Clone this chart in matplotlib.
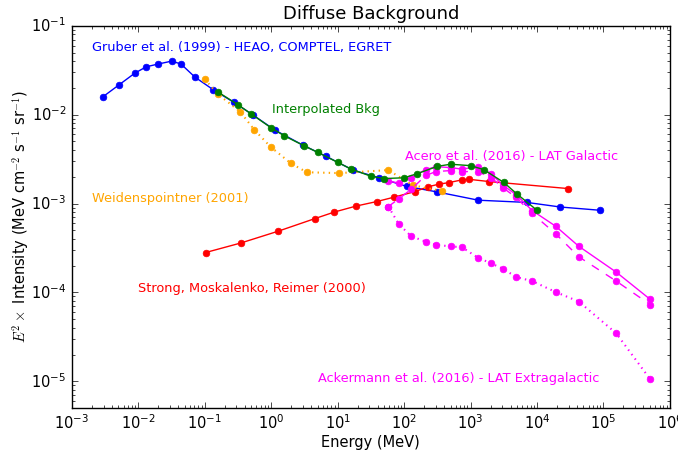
import numpy as np
import matplotlib
matplotlib.use("Agg")
import matplotlib.pyplot as plt

plt.style.use("classic")

# Gruber et al. (1999) - HEAO, COMPTEL, EGRET
gruber_e = [0.0029, 0.0051, 0.0089, 0.0132, 0.0197, 0.032, 0.044, 0.071, 0.134, 0.275,
            0.537, 1.14, 3.04, 6.7, 17.2, 42, 109, 317, 1315, 7000, 22500, 87300]
gruber_i = [0.0158, 0.0216, 0.0294, 0.0346, 0.0371, 0.0401, 0.0371, 0.0265, 0.0191, 0.01375,
            0.00987, 0.0067, 0.00452, 0.0034, 0.00237, 0.00195, 0.00156, 0.00135, 0.00109,
            0.00103, 0.000914, 0.000841]

# Weidenspointner (2001)
weid_e = [0.1, 0.158, 0.341, 0.555, 0.98, 1.97, 3.43, 10.5, 58, 134, 378]
weid_i = [0.0251, 0.0170, 0.0108, 0.00678, 0.00434, 0.00284, 0.00225, 0.00220, 0.00238,
          0.00161, 0.00138]

# Strong, Moskalenko, Reimer (2000)
strong_e = [0.103, 0.35, 1.28, 4.57, 8.9, 19.1, 38.8, 70, 146, 230, 339, 471, 739, 943,
            1927, 29200]
strong_i = [0.000281, 0.00036, 0.000489, 0.000678, 0.000802, 0.000938, 0.001053, 0.001178,
            0.001364, 0.001545, 0.001656, 0.00172, 0.001845, 0.001875, 0.001766, 0.001475]

# Acero et al. (2016) - LAT Galactic (two models) and Ackermann et al. (2016)
lat_e = [58, 83, 127, 212, 302, 500, 740, 1280, 2040, 3060, 4860, 8470, 19100, 42500,
         156000, 507000]
acero_i = [0.00179, 0.0017, 0.00196, 0.00241, 0.0026, 0.00254, 0.00244, 0.0026, 0.00217,
           0.00161, 0.00126, 0.000834, 0.000556, 0.000331, 0.000169, 8.34e-5]
acero2_i = [0.000925, 0.00113, 0.00144, 0.00207, 0.00229, 0.00235, 0.00229, 0.00229, 0.00196,
            0.00151, 0.00117, 0.000773, 0.000457, 0.000252, 0.000134, 7.28e-5]
acker_i = [0.000925, 0.000589, 0.00043, 0.000372, 0.000344, 0.000329, 0.000323, 0.000247,
           0.000212, 0.000185, 0.000149, 0.000134, 0.000101, 7.9e-5, 3.46e-5, 1.05e-5]

# Interpolated background
interp_e = [0.158, 0.316, 0.5, 1, 1.58, 3.16, 5, 10, 15.8, 31.6, 50, 100, 158, 316, 500,
            1000, 1580, 3160, 5000, 10000]
interp_i = [0.0180, 0.01295, 0.0102, 0.0071, 0.00577, 0.00445, 0.00377, 0.00291, 0.00245,
            0.00203, 0.00191, 0.00195, 0.00217, 0.00262, 0.00277, 0.00267, 0.00241, 0.00173,
            0.00128, 0.000841]

MAG = (1, 0, 1)
GRN = (0, 0.5, 0)

fig = plt.figure(figsize=(6.78, 4.53), dpi=100, facecolor="white")
ax = fig.add_axes([0.106, 0.0993, 0.882, 0.8437])
ax.set_facecolor("white")

ms = 4.8
ax.loglog(gruber_e, gruber_i, "-o", color="b", mec="b", ms=ms, lw=1)
ax.loglog(strong_e, strong_i, "-o", color="r", mec="r", ms=ms, lw=1)
ax.loglog(weid_e, weid_i, ":o", color="orange", mec="orange", ms=ms, lw=1.5)
ax.loglog(lat_e, acero_i, "-o", color=MAG, mec=MAG, ms=ms, lw=1)
ax.loglog(lat_e, acero2_i, "--o", color=MAG, mec=MAG, ms=ms, lw=1)
ax.loglog(lat_e, acker_i, ":o", color=MAG, mec=MAG, ms=ms, lw=1.5)
ax.loglog(interp_e, interp_i, "-o", color=GRN, mec=GRN, ms=ms, lw=1)

ax.set_xlim(1e-3, 1e6)
ax.set_ylim(5e-6, 1e-1)

kw = dict(transform=ax.transAxes, fontsize=9.3, va="center", ha="left")
ax.text(0.033, 0.942, "Gruber et al. (1999) - HEAO, COMPTEL, EGRET", color="b", **kw)
ax.text(0.334, 0.780, "Interpolated Bkg", color=GRN, **kw)
ax.text(0.557, 0.657, "Acero et al. (2016) - LAT Galactic", color=MAG, **kw)
ax.text(0.033, 0.547, "Weidenspointner (2001)", color="orange", **kw)
ax.text(0.110, 0.3115, "Strong, Moskalenko, Reimer (2000)", color="r", **kw)
ax.text(0.411, 0.0785, "Ackermann et al. (2016) - LAT Extragalactic", color=MAG, **kw)

ax.set_title("Diffuse Background", fontsize=13)
ax.set_xlabel("Energy (MeV)", fontsize=10.5, labelpad=2)
ax.set_ylabel(r"$E^2 \times$ Intensity (MeV cm$^{-2}$ s$^{-1}$ sr$^{-1}$)", fontsize=10.5,
              labelpad=0)
ax.tick_params(labelsize=10.5)

fig.savefig("out.png", dpi=100, facecolor="white")
